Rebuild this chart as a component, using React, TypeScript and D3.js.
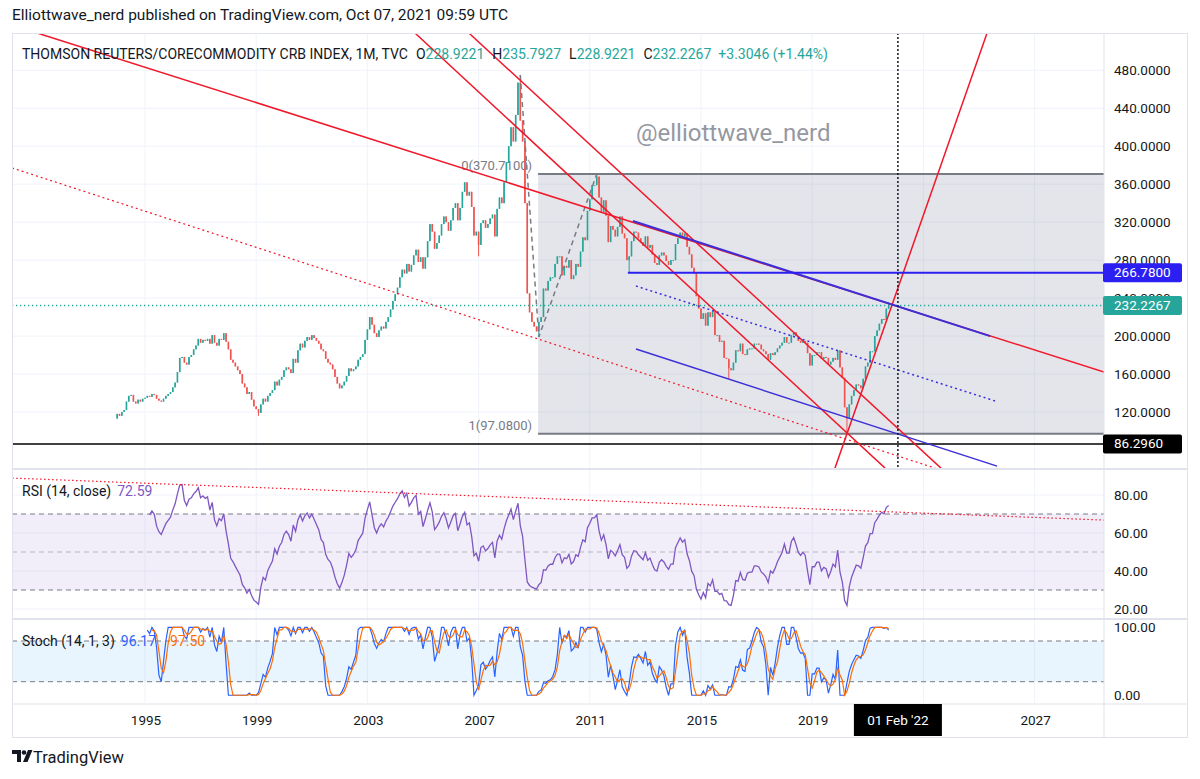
import React, { useEffect, useRef } from 'react';
import * as d3 from 'd3';

// monthly closes, TR/CC CRB index, first bar Jan 1994
const startYear = 1994;
const firstOpen = 113;
const closes1994to2007 = [
  118, 116, 120, 122, 131, 137, 138, 131, 129, 133, 131, 134,
  135, 137, 136, 139, 138, 134, 132, 131, 134, 137, 139, 141,
  146, 151, 162, 177, 178, 172, 170, 178, 180, 186, 190, 197,
  193, 196, 195, 197, 192, 201, 193, 190, 197, 196, 203, 194,
  186, 175, 172, 168, 164, 160, 150, 146, 139, 141, 133, 126,
  123, 119, 128, 134, 131, 137, 140, 143, 152, 148, 154, 157,
  164, 167, 165, 161, 176, 172, 185, 192, 188, 195, 199, 196,
  201, 198, 195, 192, 186, 184, 176, 172, 170, 165, 157, 150,
  145, 148, 152, 158, 166, 163, 165, 168, 175, 178, 181, 196,
  207, 220, 212, 203, 199, 206, 210, 208, 215, 220, 228, 237,
  244, 251, 262, 270, 266, 276, 268, 275, 285, 291, 278, 283,
  271, 283, 300, 318, 310, 292, 298, 306, 318, 326, 320, 311,
  322, 335, 340, 322, 335, 352, 362, 348, 352, 336, 306, 310,
  296, 319, 322, 314, 318, 324, 328, 305, 334, 346, 340, 362,
];
const closes2008to2021 = [
  383, 400, 420, 405, 433, 467, 427, 405, 340, 245, 225, 215,
  210, 205, 215, 220, 250, 248, 258, 262, 262, 276, 284, 284,
  264, 274, 272, 280, 260, 264, 276, 273, 289, 304, 301, 332,
  344, 359, 359, 368, 346, 331, 343, 327, 299, 316, 312, 305,
  315, 326, 308, 303, 280, 284, 300, 310, 309, 303, 299, 295,
  305, 293, 296, 286, 277, 275, 285, 288, 285, 279, 275, 280,
  280, 297, 303, 309, 305, 308, 294, 286, 272, 266, 242, 229,
  218, 224, 211, 225, 220, 226, 201, 201, 194, 195, 177, 176,
  166, 164, 172, 185, 184, 192, 181, 180, 186, 187, 187, 192,
  192, 191, 186, 184, 181, 175, 182, 180, 183, 187, 190, 193,
  199, 193, 193, 201, 204, 200, 195, 193, 195, 193, 182, 169,
  180, 180, 183, 183, 176, 178, 177, 170, 173, 177, 175, 185,
  167, 156, 125, 113, 128, 137, 143, 149, 148, 145, 155, 168,
  172, 184, 184, 200, 206, 213, 218, 217, 228.9221, 232.2267,
];
const wickExtremes = [
  { date: '1999-02', low: 116 },
  { date: '2007-01', low: 284 },
  { date: '2008-07', high: 475 },
  { date: '2009-03', low: 199 },
  { date: '2011-04', high: 370.71 },
  { date: '2012-06', low: 266.78 },
  { date: '2016-01', low: 155 },
  { date: '2020-04', low: 97.08 },
  { date: '2021-10', high: 235.7927, low: 228.9221 },
];

const priceTicks = [120, 160, 200, 240, 280, 320, 360, 400, 440, 480];
const rsiTicks = [20, 40, 60, 80];
const rsiLevels = [70, 50, 30];
const stochTicks = [0, 100];
const stochLevels = [80, 20];
const yearTicks = [1995, 1999, 2003, 2007, 2011, 2015, 2019, 2023, 2027];

const fibStart = 2009.14;
const fibLevels = [
  { value: 370.71, label: '0(370.7100)' },
  { value: 97.08, label: '1(97.0800)' },
];
const priceTags = [
  { value: 266.78, label: '266.7800', color: '#2b1ff2' },
  { value: 232.2267, label: '232.2267', color: '#26a69a' },
  { value: 86.296, label: '86.2960', color: '#000000' },
];
const crosshairDate = 2022.083;

const RED = '#f0182a';
const PURPLE = '#3d2fd8';
// drawn trend lines as [decimal year, price]
const trendLines = [
  { pts: [[1991.12, 519.3], [2029.5, 162.1]], color: RED, dash: '', w: 1.5 },
  { pts: [[2004.71, 519.3], [2021.62, 60.9]], color: RED, dash: '', w: 1.5 },
  { pts: [[2006.65, 519.3], [2023.63, 60.9]], color: RED, dash: '', w: 1.5 },
  { pts: [[2019.82, 60.9], [2025.29, 519.3]], color: RED, dash: '', w: 1.5 },
  { pts: [[1990.22, 377.1], [2023.42, 60.9]], color: RED, dash: '2,3', w: 1.2 },
  { pts: [[2012.55, 321.2], [2025.4, 199.9]], color: PURPLE, dash: '', w: 2 },
  { pts: [[2012.66, 186.3], [2025.65, 63.0]], color: PURPLE, dash: '', w: 1.5 },
  { pts: [[2012.66, 252.7], [2025.58, 131.6]], color: PURPLE, dash: '2,3', w: 1.5 },
  { pts: [[2012.37, 266.78], [2030, 266.78]], color: '#2b1ff2', dash: '', w: 2 },
];
const waveLine = [[2008.5, 475], [2009.167, 199], [2011.25, 370.71]];
const rsiTrend = [[1990.22, 88.9], [2029.5, 66.8]];

const FONT = 'Roboto, "Liberation Sans", sans-serif';
const TEXT = '#131722';
const UP = '#26a69a';
const DOWN = '#ef5350';

export default function App() {
  const ref = useRef<SVGSVGElement>(null);

  useEffect(() => {
    const svg = d3.select(ref.current);
    svg.selectAll('*').remove();

    const left = 12, right = 1104, outerRight = 1188;
    const mainTop = 33, mainBottom = 468;
    const rsiTop = 470, rsiBottom = 617;
    const stTop = 621, stBottom = 703;
    const axisBottom = 737;

    const x = d3.scaleLinear().domain([1995, 2027]).range([145, 145 + 32 * 27.8]);
    const y = d3.scaleLinear().domain([120, 480]).range([412, 70.3]);
    const yR = d3.scaleLinear().domain([30, 70]).range([590, 514]);
    const yS = d3.scaleLinear().domain([20, 80]).range([681.7, 641]);

    const closes = closes1994to2007.concat(closes2008to2021);
    const bars = closes.map((c, i) => {
      const o = i === 0 ? firstOpen : closes[i - 1];
      return { t: startYear + i / 12, o, c, h: Math.max(o, c), l: Math.min(o, c) };
    });
    wickExtremes.forEach((w) => {
      const [yy, mm] = w.date.split('-').map(Number);
      const b = bars[(yy - startYear) * 12 + mm - 1];
      if (w.high !== undefined) b.h = w.high;
      if (w.low !== undefined) b.l = w.low;
    });

    // RSI 14 (Wilder)
    const rsi: (number | null)[] = closes.map(() => null);
    let ag = 0, al = 0;
    for (let i = 1; i <= 14; i++) {
      const d = closes[i] - closes[i - 1];
      ag += Math.max(d, 0);
      al += Math.max(-d, 0);
    }
    ag /= 14; al /= 14;
    rsi[14] = 100 - 100 / (1 + ag / al);
    for (let i = 15; i < closes.length; i++) {
      const d = closes[i] - closes[i - 1];
      ag = (ag * 13 + Math.max(d, 0)) / 14;
      al = (al * 13 + Math.max(-d, 0)) / 14;
      rsi[i] = al === 0 ? 100 : 100 - 100 / (1 + ag / al);
    }
    // Stoch 14,1,3
    const k: (number | null)[] = bars.map((b, i) => {
      if (i < 13) return null;
      const win = bars.slice(i - 13, i + 1);
      const hh = d3.max(win, (d) => d.h) as number;
      const ll = d3.min(win, (d) => d.l) as number;
      return hh === ll ? 50 : (100 * (b.c - ll)) / (hh - ll);
    });
    const dd: (number | null)[] = k.map((v, i) =>
      i < 15 ? null : ((k[i] as number) + (k[i - 1] as number) + (k[i - 2] as number)) / 3);

    const defs = svg.append('defs');
    const clip = (id: string, y0: number, y1: number) =>
      defs.append('clipPath').attr('id', id).append('rect')
        .attr('x', left).attr('y', y0).attr('width', right - left).attr('height', y1 - y0);
    clip('cMain', mainTop, mainBottom);
    clip('cRsi', rsiTop, rsiBottom);
    clip('cSt', stTop, stBottom);

    svg.append('rect').attr('width', 1200).attr('height', 779).attr('fill', '#fff');

    // title
    svg.append('text').attr('x', 12).attr('y', 20).attr('font-size', 15.5).attr('fill', TEXT)
      .attr('font-family', FONT)
      .text('Elliottwave_nerd published on TradingView.com, Oct 07, 2021 09:59 UTC');

    // vertical grid
    yearTicks.forEach((yr) => {
      svg.append('line').attr('x1', x(yr)).attr('x2', x(yr)).attr('y1', mainTop).attr('y2', stBottom)
        .attr('stroke', '#f0f3fa').attr('stroke-width', 1);
    });
    // horizontal grid
    priceTicks.forEach((p) => {
      svg.append('line').attr('x1', left).attr('x2', right).attr('y1', y(p)).attr('y2', y(p))
        .attr('stroke', '#f0f3fa');
    });
    rsiTicks.forEach((p) => {
      svg.append('line').attr('x1', left).attr('x2', right).attr('y1', yR(p)).attr('y2', yR(p))
        .attr('stroke', '#f0f3fa');
    });

    // ---------- main pane
    const main = svg.append('g').attr('clip-path', 'url(#cMain)');

    main.append('text').attr('x', 636).attr('y', 141).attr('font-size', 24).attr('fill', '#9598a1')
      .attr('font-family', FONT).text('@elliottwave_nerd');

    const fx = x(fibStart);
    main.append('rect').attr('x', fx).attr('y', y(fibLevels[0].value))
      .attr('width', right - fx).attr('height', y(fibLevels[1].value) - y(fibLevels[0].value))
      .attr('fill', 'rgba(120,123,150,0.2)');
    fibLevels.forEach((f) => {
      main.append('line').attr('x1', fx).attr('x2', right).attr('y1', y(f.value)).attr('y2', y(f.value))
        .attr('stroke', '#787b86').attr('stroke-width', 2);
      main.append('text').attr('x', fx - 6).attr('y', y(f.value) - 4).attr('text-anchor', 'end')
        .attr('font-size', 13).attr('fill', '#787b86').attr('font-family', FONT).text(f.label);
    });

    main.append('line').attr('x1', left).attr('x2', right)
      .attr('y1', y(232.2267)).attr('y2', y(232.2267))
      .attr('stroke', UP).attr('stroke-width', 1.3).attr('stroke-dasharray', '1.3,2.7');
    main.append('line').attr('x1', left).attr('x2', right)
      .attr('y1', y(86.296)).attr('y2', y(86.296))
      .attr('stroke', '#000').attr('stroke-width', 1.5);

    // candles
    const cg = main.append('g');
    cg.selectAll('line.wick').data(bars).enter().append('line')
      .attr('x1', (d) => x(d.t)).attr('x2', (d) => x(d.t))
      .attr('y1', (d) => y(d.h)).attr('y2', (d) => y(d.l))
      .attr('stroke', (d) => (d.c >= d.o ? UP : DOWN)).attr('stroke-width', 1);
    cg.selectAll('rect.body').data(bars).enter().append('rect')
      .attr('x', (d) => x(d.t) - 0.8).attr('width', 1.6)
      .attr('y', (d) => y(Math.max(d.o, d.c)))
      .attr('height', (d) => Math.max(1, Math.abs(y(d.o) - y(d.c))))
      .attr('fill', (d) => (d.c >= d.o ? UP : DOWN));

    const lineGen = d3.line<number[]>().x((d) => x(d[0])).y((d) => y(d[1]));
    main.append('path').attr('d', lineGen(waveLine)).attr('fill', 'none')
      .attr('stroke', '#787b86').attr('stroke-width', 1.5).attr('stroke-dasharray', '5,4');

    trendLines.forEach((l) => {
      main.append('path').attr('d', lineGen(l.pts)).attr('fill', 'none')
        .attr('stroke', l.color).attr('stroke-width', l.w)
        .attr('stroke-dasharray', l.dash || null);
    });

    main.append('line').attr('x1', x(crosshairDate)).attr('x2', x(crosshairDate))
      .attr('y1', mainTop).attr('y2', mainBottom)
      .attr('stroke', '#131722').attr('stroke-width', 1.5).attr('stroke-dasharray', '2,2');

    // legend row
    const lg = svg.append('text').attr('x', 22).attr('y', 59).attr('font-size', 14)
      .attr('font-family', FONT).attr('fill', TEXT);
    lg.append('tspan').text('THOMSON REUTERS/CORECOMMODITY CRB INDEX, 1M, TVC');
    const ohlc = [['O', '228.9221'], ['H', '235.7927'], ['L', '228.9221'], ['C', '232.2267']];
    ohlc.forEach(([a, b]) => {
      lg.append('tspan').attr('dx', 8).text(a);
      lg.append('tspan').attr('fill', UP).text(b);
    });
    lg.append('tspan').attr('dx', 7).attr('fill', UP).text('+3.3046 (+1.44%)');

    // ---------- RSI pane
    const rp = svg.append('g').attr('clip-path', 'url(#cRsi)');
    rp.append('rect').attr('x', left).attr('width', right - left)
      .attr('y', yR(70)).attr('height', yR(30) - yR(70)).attr('fill', 'rgba(126,87,194,0.1)');
    rsiLevels.forEach((v) => {
      rp.append('line').attr('x1', left).attr('x2', right).attr('y1', yR(v)).attr('y2', yR(v))
        .attr('stroke', '#787b86').attr('stroke-dasharray', '5,4')
        .attr('stroke-opacity', v === 50 ? 0.5 : 1);
    });
    const rsiLine = d3.line<number | null>().defined((d) => d !== null)
      .x((_, i) => x(startYear + i / 12)).y((d) => yR(d as number));
    rp.append('path').attr('d', rsiLine(rsi)).attr('fill', 'none')
      .attr('stroke', '#7e57c2').attr('stroke-width', 1.3);
    rp.append('path').attr('d', d3.line<number[]>().x((d) => x(d[0])).y((d) => yR(d[1]))(rsiTrend))
      .attr('fill', 'none').attr('stroke', RED).attr('stroke-width', 1.2).attr('stroke-dasharray', '1.5,2.5');
    const rl = svg.append('text').attr('x', 22).attr('y', 496).attr('font-size', 14)
      .attr('font-family', FONT).attr('fill', TEXT);
    rl.append('tspan').text('RSI (14, close)');
    rl.append('tspan').attr('dx', 6).attr('fill', '#7e57c2').text('72.59');

    // ---------- Stoch pane
    const sp = svg.append('g').attr('clip-path', 'url(#cSt)');
    sp.append('rect').attr('x', left).attr('width', right - left)
      .attr('y', yS(80)).attr('height', yS(20) - yS(80)).attr('fill', 'rgba(33,150,243,0.1)');
    stochLevels.forEach((v) => {
      sp.append('line').attr('x1', left).attr('x2', right).attr('y1', yS(v)).attr('y2', yS(v))
        .attr('stroke', '#787b86').attr('stroke-dasharray', '5,4');
    });
    const stLine = d3.line<number | null>().defined((d) => d !== null)
      .x((_, i) => x(startYear + i / 12)).y((d) => yS(d as number));
    sp.append('path').attr('d', stLine(k)).attr('fill', 'none').attr('stroke', '#2962ff').attr('stroke-width', 1.2);
    sp.append('path').attr('d', stLine(dd)).attr('fill', 'none').attr('stroke', '#ff6d00').attr('stroke-width', 1.2);
    const sl = svg.append('text').attr('x', 22).attr('y', 646).attr('font-size', 14)
      .attr('font-family', FONT).attr('fill', TEXT);
    sl.append('tspan').text('Stoch (14, 1, 3)');
    sl.append('tspan').attr('dx', 6).attr('fill', '#2962ff').text('96.17');
    sl.append('tspan').attr('dx', 14).attr('fill', '#ff6d00').text('97.50');

    // ---------- frame & separators
    const sep = (yy: number, w = 1) => svg.append('line').attr('x1', left).attr('x2', outerRight)
      .attr('y1', yy).attr('y2', yy).attr('stroke', '#e0e3eb').attr('stroke-width', w);
    sep(469, 2);
    sep(619, 2);
    sep(704, 1);
    svg.append('line').attr('x1', right).attr('x2', right).attr('y1', mainTop).attr('y2', axisBottom)
      .attr('stroke', '#e0e3eb');
    svg.append('rect').attr('x', left + 0.5).attr('y', mainTop + 0.5)
      .attr('width', outerRight - left - 1).attr('height', axisBottom - mainTop)
      .attr('fill', 'none').attr('stroke', '#e0e3eb');

    // price axis labels
    const axisText = (yy: number, s: string, fill = TEXT) => svg.append('text').attr('x', 1114)
      .attr('y', yy + 4.5).attr('font-size', 13.5).attr('font-family', FONT).attr('fill', fill).text(s);
    priceTicks.forEach((p) => axisText(y(p), d3.format('.4f')(p)));
    rsiTicks.forEach((p) => axisText(yR(p), d3.format('.2f')(p)));
    stochTicks.forEach((p) => axisText(yS(p), d3.format('.2f')(p)));
    priceTags.forEach((t) => {
      svg.append('rect').attr('x', 1103).attr('y', y(t.value) - 9.5).attr('width', 79).attr('height', 19)
        .attr('rx', 2).attr('fill', t.color);
      axisText(y(t.value), t.label, '#fff');
    });

    // time axis
    yearTicks.filter((yr) => yr !== 2023).forEach((yr) => {
      svg.append('text').attr('x', x(yr) + 1).attr('y', 725).attr('text-anchor', 'middle')
        .attr('font-size', 13.5).attr('font-family', FONT).attr('fill', TEXT).text(String(yr));
    });
    const cx = x(crosshairDate);
    svg.append('rect').attr('x', cx - 44).attr('y', 704).attr('width', 88).attr('height', 32).attr('fill', '#000');
    svg.append('text').attr('x', cx).attr('y', 725).attr('text-anchor', 'middle').attr('font-size', 13.5)
      .attr('font-family', FONT).attr('fill', '#fff').text("01 Feb '22");

    // footer logo
    const logo = svg.append('g').attr('fill', TEXT);
    logo.append('path').attr('d', 'M12 750 h9 v12 h-4 v-8 h-5 z');
    logo.append('circle').attr('cx', 24).attr('cy', 752.5).attr('r', 2.3);
    logo.append('path').attr('d', 'M28 750 h4.5 l-5 12 h-4.5 z');
    svg.append('text').attr('x', 33).attr('y', 763).attr('font-size', 16.5).attr('font-family', FONT)
      .attr('fill', TEXT).text('TradingView');
  }, []);

  return (
    <svg ref={ref} width={1200} height={779}
      style={{ position: 'absolute', left: 0, top: 0, display: 'block' }} />
  );
}
